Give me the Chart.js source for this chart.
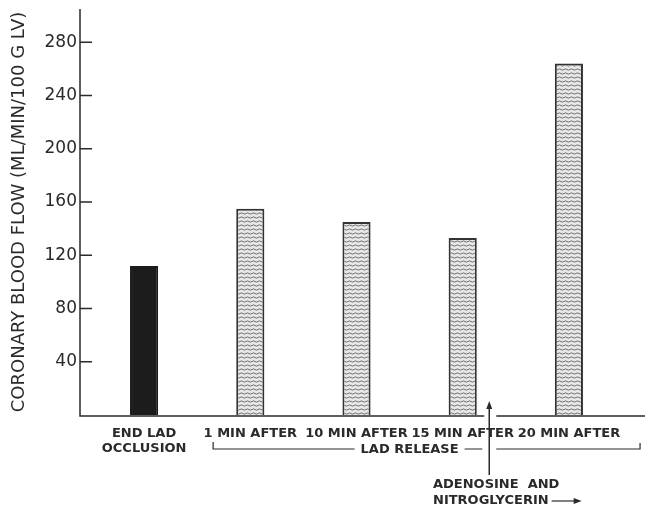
<!DOCTYPE html>
<html>
<head>
<meta charset="utf-8">
<script src="https://cdn.jsdelivr.net/npm/chart.js@4/dist/chart.umd.min.js"></script>
<style>
  html, body { margin: 0; padding: 0; background: #fff; }
  #wrap { width: 645px; height: 511px; }
</style>
</head>
<body>
<div id="wrap"><canvas id="c" width="645" height="511"></canvas></div>
<script>
// values
const categories = [['END LAD', 'OCCLUSION'], '1 MIN AFTER', '10 MIN AFTER', '15 MIN AFTER', '20 MIN AFTER'];
const flow = [112, 155, 145, 133, 264];
const yTicks = [40, 80, 120, 160, 200, 240, 280];
const yTitle = 'CORONARY BLOOD FLOW (ML/MIN/100 G LV)';

const ink = '#2a2a2a';
const labelFont = '"DejaVu Sans", sans-serif';

// stippled fill for the release bars
function stipple() {
  const pc = document.createElement('canvas');
  pc.width = 6; pc.height = 4;
  const p = pc.getContext('2d');
  p.fillStyle = '#e8e8e8';
  p.fillRect(0, 0, 6, 4);
  p.strokeStyle = '#6e6e6e';
  p.lineWidth = 1;
  p.beginPath();
  p.moveTo(0, 1.5);
  p.quadraticCurveTo(1.5, 0.3, 3, 1.5);
  p.quadraticCurveTo(4.5, 2.7, 6, 1.5);
  p.stroke();
  return p.createPattern(pc, 'repeat');
}
const dots = stipple();

const fills = flow.map((v, i) => i === 0 ? '#1c1c1c' : dots);
const edges = flow.map((v, i) => i === 0 ? '#1c1c1c' : '#333');

const decor = {
  id: 'decor',
  afterDraw(chart) {
    const ctx = chart.ctx;
    const x = chart.scales.x, y = chart.scales.y;
    const axisX = 80;
    const base = y.getPixelForValue(0) + 1;
    const step = x.getPixelForValue(1) - x.getPixelForValue(0);
    const arrowX = x.getPixelForValue(3) + step * 0.25;

    ctx.save();
    ctx.strokeStyle = ink;
    ctx.fillStyle = ink;
    ctx.lineWidth = 1.5;

    // axes
    ctx.beginPath();
    ctx.moveTo(axisX, chart.chartArea.top);
    ctx.lineTo(axisX, base);
    ctx.lineTo(arrowX - 5, base);
    ctx.moveTo(arrowX + 7, base);
    ctx.lineTo(645, base);
    yTicks.forEach(t => {
      const py = y.getPixelForValue(t);
      ctx.moveTo(axisX, py);
      ctx.lineTo(axisX + 12, py);
    });
    ctx.stroke();

    // LAD release bracket
    const by = 449;
    const bl = x.getPixelForValue(1) - step * 0.35;
    const br = x.getPixelForValue(4) + step * 0.67;
    const mid = (x.getPixelForValue(2) + x.getPixelForValue(3)) / 2;
    ctx.font = 'bold 13px ' + labelFont;
    ctx.textAlign = 'center';
    ctx.textBaseline = 'middle';
    ctx.fillText('LAD RELEASE', mid, by + 1);
    const tw = ctx.measureText('LAD RELEASE').width / 2 + 6;
    ctx.lineWidth = 1.2;
    ctx.beginPath();
    ctx.moveTo(bl, by - 7);
    ctx.lineTo(bl, by);
    ctx.lineTo(mid - tw, by);
    ctx.moveTo(mid + tw, by);
    ctx.lineTo(arrowX - 7, by);
    ctx.moveTo(arrowX + 7, by);
    ctx.lineTo(br, by);
    ctx.lineTo(br, by - 6);
    ctx.stroke();

    // drug arrow
    ctx.lineWidth = 1.5;
    ctx.beginPath();
    ctx.moveTo(arrowX, 475);
    ctx.lineTo(arrowX, 406);
    ctx.stroke();
    ctx.beginPath();
    ctx.moveTo(arrowX, 401);
    ctx.lineTo(arrowX - 3, 409);
    ctx.lineTo(arrowX + 3, 409);
    ctx.closePath();
    ctx.fill();

    ctx.textAlign = 'left';
    ctx.fillText('ADENOSINE  AND', 433, 485);
    ctx.fillText('NITROGLYCERIN', 433, 501);
    const ex = 433 + ctx.measureText('NITROGLYCERIN').width + 3;
    ctx.lineWidth = 1.2;
    ctx.beginPath();
    ctx.moveTo(ex, 501);
    ctx.lineTo(ex + 24, 501);
    ctx.stroke();
    ctx.beginPath();
    ctx.moveTo(ex + 30, 501);
    ctx.lineTo(ex + 22, 498);
    ctx.lineTo(ex + 22, 504);
    ctx.closePath();
    ctx.fill();
    ctx.restore();
  }
};

new Chart(document.getElementById('c'), {
  type: 'bar',
  data: {
    labels: categories,
    datasets: [{
      data: flow,
      backgroundColor: fills,
      borderColor: edges,
      borderWidth: { top: 2, left: 2, right: 2, bottom: 0 },
      barPercentage: 0.265,
      categoryPercentage: 1
    }]
  },
  options: {
    responsive: false,
    animation: false,
    events: [],
    layout: { padding: { left: 9, right: 23, top: 9, bottom: 0 } },
    plugins: { legend: { display: false }, tooltip: { enabled: false } },
    scales: {
      x: {
        grid: { display: false, drawTicks: false },
        border: { display: false },
        ticks: {
          color: ink,
          padding: 11,
          maxRotation: 0,
          autoSkip: false,
          font: { family: labelFont, size: 13, weight: 'bold', lineHeight: 1.15 }
        },
        afterFit(s) { s.height = 96; s.paddingLeft = 0; s.paddingRight = 0; }
      },
      y: {
        min: 0,
        max: 305,
        grid: { display: false, drawTicks: false },
        border: { display: false },
        ticks: {
          stepSize: 40,
          includeBounds: false,
          padding: 14,
          color: ink,
          font: { family: labelFont, size: 17 },
          callback: v => yTicks.includes(v) ? String(v) : ''
        },
        title: {
          display: true,
          text: yTitle,
          color: ink,
          padding: 0,
          font: { family: labelFont, size: 18 }
        },
        afterFit(s) { s.width = 82; s.paddingTop = 0; s.paddingBottom = 0; }
      }
    }
  },
  plugins: [decor]
});
</script>
</body>
</html>
